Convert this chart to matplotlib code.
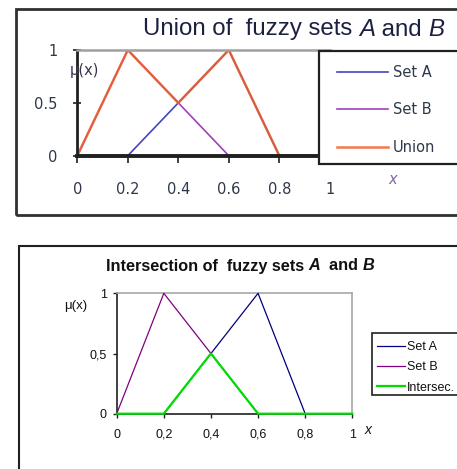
import matplotlib
matplotlib.use("Agg")
import matplotlib.pyplot as plt
from matplotlib.patches import Rectangle
from matplotlib.offsetbox import TextArea, HPacker, AnchoredOffsetbox

# membership values of the two fuzzy sets and their combinations
x_vals = [0, 0.2, 0.4, 0.6, 0.8, 1]
set_a = [0, 0, 0.5, 1, 0, 0]
set_b = [0, 1, 0.5, 0, 0, 0]
union_ab = [0, 1, 0.5, 1, 0, 0]
intersec_ab = [0, 0, 0.5, 0, 0, 0]

x_ticks = [0, 0.2, 0.4, 0.6, 0.8, 1]
y_ticks = [0, 0.5, 1]
x_labels_dot = ["0", "0.2", "0.4", "0.6", "0.8", "1"]
y_labels_dot = ["0", "0.5", "1"]
x_labels_comma = ["0", "0,2", "0,4", "0,6", "0,8", "1"]
y_labels_comma = ["0", "0,5", "1"]

W, H = 457, 469
fig = plt.figure(figsize=(W / 100, H / 100), dpi=100)
fig.patch.set_facecolor("white")


def fx(px):
    return px / W


def fy(py):
    return 1 - py / H


def box(l, t, r, b):
    return [fx(l), fy(b), fx(r) - fx(l), fy(t) - fy(b)]


def frame(l, t, r, b, lw, color, z=1, face="none"):
    rect = Rectangle((fx(l), fy(b)), fx(r) - fx(l), fy(t) - fy(b),
                     transform=fig.transFigure, facecolor=face,
                     edgecolor=color, lw=lw, zorder=z)
    fig.add_artist(rect)


def title(parts, cx, cy, size, color, weight="normal"):
    boxes = []
    for txt, style in parts:
        boxes.append(TextArea(txt, textprops=dict(
            family="Liberation Sans", size=size, color=color,
            weight=weight, style=style)))
    pack = HPacker(children=boxes, sep=0, pad=0, align="baseline")
    anc = AnchoredOffsetbox(loc="center", child=pack, pad=0, borderpad=0,
                            frameon=False, bbox_to_anchor=(fx(cx), fy(cy)),
                            bbox_transform=fig.transFigure)
    anc.set_zorder(6)
    fig.add_artist(anc)


# ---------------- Union chart ----------------
frame(16, 9.5, 470, 215, 2.0, "#303030", z=0.5)

top_font = "DejaVu Sans"
top_txt = "#2e3848"
ax1 = fig.add_axes(box(77.3, 50, 329.8, 155.7))
ax1.plot(x_vals, set_a, color="#4444c4", lw=1.2, zorder=2)
ax1.plot(x_vals, set_b, color="#a040bc", lw=1.2, zorder=2)
ax1.plot(x_vals, union_ab, color="#f0602a", lw=1.8, alpha=0.85, zorder=2.1)
ax1.set_xlim(0, 1)
ax1.set_ylim(0, 1)
ax1.set_xticks(x_ticks)
ax1.set_xticklabels(x_labels_dot)
ax1.set_yticks(y_ticks)
ax1.set_yticklabels(y_labels_dot)
for lab in ax1.get_xticklabels() + ax1.get_yticklabels():
    lab.set_fontfamily(top_font)
    lab.set_fontsize(10.5)
    lab.set_color(top_txt)
ax1.tick_params(axis="y", direction="inout", length=6, width=1.2,
                color="#202020", pad=11)
ax1.tick_params(axis="x", direction="out", length=5, width=1.2,
                color="#202020", pad=14)
ax1.spines["left"].set_color("#202020")
ax1.spines["left"].set_linewidth(2.0)
ax1.spines["bottom"].set_color("#202020")
ax1.spines["bottom"].set_linewidth(2.8)
ax1.spines["top"].set_color("#a0a0a0")
ax1.spines["top"].set_linewidth(1.8)
ax1.spines["right"].set_visible(False)

title([("Union of  fuzzy sets ", "normal"), ("A", "italic"),
       (" and ", "normal"), ("B", "italic")], 293.5, 29, 17.3, "#1c2040")
fig.text(fx(84), fy(70), "\u03bc(x)", family=top_font, size=10.5,
         color="#3a3050", ha="center", va="center", zorder=6)
fig.text(fx(393), fy(180), "x", family=top_font, size=10.5,
         style="italic", color="#8068a0", ha="center", va="center")

frame(319, 50.7, 470, 164, 1.6, "#202020", z=1, face="white")
h1 = ax1.get_lines()
leg1 = fig.legend([h1[0], h1[1], h1[2]], ["Set A", "Set B", "Union"],
                  loc="upper left", bbox_to_anchor=(fx(337), fy(65)),
                  frameon=False, borderpad=0, borderaxespad=0,
                  handlelength=3.5, handletextpad=0.35, labelspacing=1.54,
                  prop=dict(family=top_font, size=10.5))
for t in leg1.get_texts():
    t.set_color(top_txt)
leg1.set_zorder(5)

# ---------------- Intersection chart ----------------
frame(19, 246, 470, 480, 1.5, "#202020", z=0.5)

ax2 = fig.add_axes(box(116.7, 293.3, 352.3, 413.7))
ax2.plot(x_vals, set_a, color="#000080", lw=0.9, zorder=3, clip_on=False)
ax2.plot(x_vals, set_b, color="#800080", lw=0.9, zorder=3, clip_on=False)
ax2.plot(x_vals, intersec_ab, color="#00dd00", lw=1.6, zorder=3.1,
         clip_on=False)
ax2.set_xlim(0, 1)
ax2.set_ylim(0, 1)
ax2.set_xticks(x_ticks)
ax2.set_xticklabels(x_labels_comma)
ax2.set_yticks(y_ticks)
ax2.set_yticklabels(y_labels_comma)
for lab in ax2.get_xticklabels() + ax2.get_yticklabels():
    lab.set_fontfamily("Liberation Sans")
    lab.set_fontsize(9)
    lab.set_color("#111111")
ax2.tick_params(axis="y", direction="out", length=3, width=1,
                color="#202020", pad=4)
ax2.tick_params(axis="x", direction="out", length=3, width=1,
                color="#202020", pad=8)
for side in ("left", "bottom"):
    ax2.spines[side].set_color("#202020")
    ax2.spines[side].set_linewidth(1.2)
for side in ("top", "right"):
    ax2.spines[side].set_color("#a8a8a8")
    ax2.spines[side].set_linewidth(1.2)

title([("Intersection of  fuzzy sets ", "normal"), ("A", "italic"),
       ("  and ", "normal"), ("B", "italic")], 240, 266, 11.7, "#111111",
      weight="bold")
fig.text(fx(76), fy(306), "\u03bc(x)", family="Liberation Sans", size=9.5,
         color="#111111", ha="center", va="center")
fig.text(fx(368), fy(430), "x", family="Liberation Sans", size=10,
         style="italic", color="#111111", ha="center", va="center")

frame(372, 333, 470, 395, 1.2, "#202020", z=1, face="white")
h2 = ax2.get_lines()
leg2 = fig.legend([h2[0], h2[1], h2[2]], ["Set A", "Set B", "Intersec."],
                  loc="upper left", bbox_to_anchor=(fx(377), fy(341)),
                  frameon=False, borderpad=0, borderaxespad=0,
                  handlelength=2.24, handletextpad=0.16, labelspacing=0.66,
                  prop=dict(family="Liberation Sans", size=9))
for t in leg2.get_texts():
    t.set_color("#111111")
leg2.set_zorder(5)

fig.savefig("out.png", dpi=100, facecolor="white")
